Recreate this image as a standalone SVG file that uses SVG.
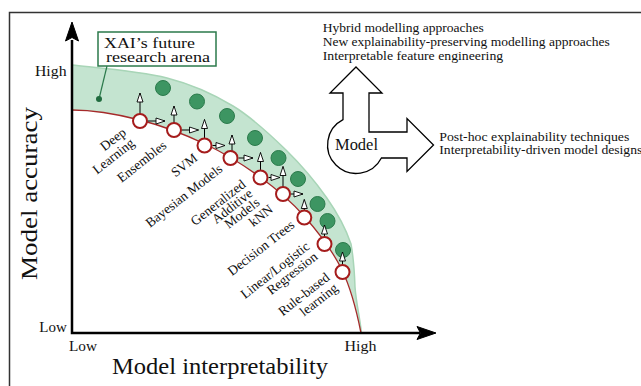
<svg xmlns="http://www.w3.org/2000/svg" width="641" height="386" viewBox="0 0 641 386">
<style>
text{font-family:"Liberation Serif","DejaVu Serif",serif;fill:#111}
.lbl{font-size:13.5px;text-anchor:end}
.rt{font-size:12px}
.ax{font-size:14px}
.big{font-size:24px}
.g{fill:#3d9562;stroke:#2b7a4b;stroke-width:1}
.r{fill:#fff;stroke:#a51c1c;stroke-width:2}
.arr{fill:none;stroke:#000;stroke-width:1;marker-end:url(#ah)}
</style>
<defs>
<marker id="ah" viewBox="0 0 10 7" refX="9.5" refY="3.5" markerWidth="10" markerHeight="7" markerUnits="userSpaceOnUse" orient="auto" overflow="visible">
<path d="M0.5,0.5 L9.5,3.5 L0.5,6.5 Z" fill="#fff" stroke="#000" stroke-width="0.9"/>
</marker>
</defs>
<rect x="9.5" y="12.5" width="700" height="400" fill="none" stroke="#333" stroke-width="1.5"/>
<g id="arena-band">
<path d="M72,65 C99.2,68 140.2,71.2 167,78 C193.8,84.8 213.2,94 233,106 C252.8,118 270.4,134.75 286,150 C301.6,165.25 315.4,181.7 326.5,197.5 C337.6,213.3 346,229 351,244 C353.5,258 354.5,272 355,287 C356,302 360,318 361.5,333 L361,333 C356.7,311.3 351.5,289.5 342,270 C332.5,250.5 317.7,231.5 304,216 C290.3,200.5 276.5,189 260,177 C243.5,165 225,153.5 205,144 C185,134.5 162.2,125.7 140,120 C117.8,114.3 94.7,110 72,110 Z" fill="#c4e4d0"/>
<path d="M72,65 C99.2,68 140.2,71.2 167,78 C193.8,84.8 213.2,94 233,106 C252.8,118 270.4,134.75 286,150 C301.6,165.25 315.4,181.7 326.5,197.5 C337.6,213.3 346,229 351,244 C353.5,258 354.5,272 355,287 C356,302 360,318 361.5,333" fill="none" stroke="#a8d5b7" stroke-width="1.5"/>
<path d="M72,110 C94.7,110 117.8,114.3 140,120 C162.2,125.7 185,134.5 205,144 C225,153.5 243.5,165 260,177 C276.5,189 290.3,200.5 304,216 C317.7,231.5 332.5,250.5 342,270 C351.5,289.5 356.7,311.3 361,333" fill="none" stroke="#a52a2a" stroke-width="1.3"/>
</g>
<g id="future-models">
<circle class="g" cx="163" cy="88" r="7.5"/>
<circle class="g" cx="197" cy="101.5" r="7.5"/>
<circle class="g" cx="227" cy="116" r="7.5"/>
<circle class="g" cx="255" cy="138" r="7.5"/>
<circle class="g" cx="278.5" cy="158" r="7.5"/>
<circle class="g" cx="298" cy="179" r="7.5"/>
<circle class="g" cx="317.5" cy="204" r="7.5"/>
<circle class="g" cx="327.5" cy="221" r="7.5"/>
<circle class="g" cx="343" cy="250" r="7.5"/>
</g>
<g id="axes">
<path d="M72,40 V333 H420" fill="none" stroke="#000" stroke-width="2.5"/>
<path d="M72,22 L78.5,41 L72,37.5 L65.5,41 Z" fill="#000" stroke="#000" stroke-width="1"/>
<path d="M436,333 L417,339.5 L420.5,333 L417,326.5 Z" fill="#000" stroke="#000" stroke-width="1"/>
<text class="ax" x="35" y="76" textLength="31.5" lengthAdjust="spacingAndGlyphs">High</text>
<text class="ax" x="39.3" y="331.5" textLength="27.5" lengthAdjust="spacingAndGlyphs">Low</text>
<text class="ax" x="69" y="350.5" textLength="28" lengthAdjust="spacingAndGlyphs">Low</text>
<text class="ax" x="344.5" y="350.5" textLength="32" lengthAdjust="spacingAndGlyphs">High</text>
<text class="big" x="112" y="374" textLength="216" lengthAdjust="spacingAndGlyphs">Model interpretability</text>
<text class="big" transform="translate(37,280) rotate(-90)" textLength="173" lengthAdjust="spacingAndGlyphs">Model accuracy</text>
</g>
<g id="connectors">
<path class="arr" d="M140,114 V93"/>
<path class="arr" d="M174,123 V106"/>
<path class="arr" d="M204.5,138.5 V119.5"/>
<path class="arr" d="M232,151.2 V135"/>
<path class="arr" d="M260.5,170.5 V152.5"/>
<path class="arr" d="M283,187 V166.5"/>
<path class="arr" d="M304.3,210.5 V199.5"/>
<path class="arr" d="M324.5,237 V225"/>
<path class="arr" d="M342.5,265 V252"/>
<path class="arr" d="M148,121 H165"/>
<path class="arr" d="M182,130 H198.5"/>
<path class="arr" d="M212.5,145.5 H225"/>
<path class="arr" d="M238.5,158 H253"/>
<path class="arr" d="M268.5,177.5 H280"/>
<path class="arr" d="M291,194 H303"/>
</g>
<g id="node-deep-learning">
<circle class="r" cx="140" cy="121" r="7"/>
<text class="lbl" transform="translate(127,134) rotate(-38)"><tspan x="0">Deep</tspan><tspan x="0" dy="13.5">Learning</tspan></text>
</g>
<g id="node-ensembles">
<circle class="r" cx="174" cy="130" r="7"/>
<text class="lbl" transform="translate(167.5,147) rotate(-38)">Ensembles</text>
</g>
<g id="node-svm">
<circle class="r" cx="204.5" cy="145.5" r="7"/>
<text class="lbl" transform="translate(198.5,159.5) rotate(-38)">SVM</text>
</g>
<g id="node-bayesian">
<circle class="r" cx="230.5" cy="158" r="7"/>
<text class="lbl" transform="translate(223.5,170.5) rotate(-38)">Bayesian Models</text>
</g>
<g id="node-gam">
<circle class="r" cx="260.5" cy="177.5" r="7"/>
<text class="lbl" transform="translate(246.5,186) rotate(-38)"><tspan x="0">Generalized</tspan><tspan x="0" dy="11.5">Additive</tspan><tspan x="0" dy="11.5">Models</tspan></text>
</g>
<g id="node-knn">
<circle class="r" cx="283" cy="194" r="7"/>
<text class="lbl" transform="translate(274,211) rotate(-38)">kNN</text>
</g>
<g id="node-decision-trees">
<circle class="r" cx="304.3" cy="217.5" r="7"/>
<text class="lbl" transform="translate(295.5,226.5) rotate(-38)">Decision Trees</text>
</g>
<g id="node-linear-logistic">
<circle class="r" cx="324.5" cy="244" r="7"/>
<text class="lbl" transform="translate(310.5,248) rotate(-38)"><tspan x="0">Linear/Logistic</tspan><tspan x="0" dy="13">Regression</tspan></text>
</g>
<g id="node-rule-based">
<circle class="r" cx="342.5" cy="272" r="7"/>
<text class="lbl" transform="translate(330.5,279) rotate(-38)"><tspan x="0">Rule-based</tspan><tspan x="0" dy="13.5">learning</tspan></text>
</g>
<g id="xai-arena">
<line x1="107" y1="66" x2="99" y2="99" stroke="#2b7a4b" stroke-width="1.2"/>
<circle cx="99" cy="99" r="3" fill="#1f6b3e"/>
<rect x="98" y="32" width="118" height="34" fill="#fff" stroke="#2b7a4b" stroke-width="1.5"/>
<text x="104" y="47.5" font-size="15" textLength="91" lengthAdjust="spacingAndGlyphs">XAI’s future</text>
<text x="106" y="62" font-size="15" textLength="104" lengthAdjust="spacingAndGlyphs">research arena</text>
</g>
<g id="model">
<path d="M356,67 L382,93 L369,93 L369,132 L407,132 L407,118.5 L433.5,145 L407,171.5 L407,158 L381.4,158 A28.5,28.5 0 1 1 343,119.6 L343,93 L330,93 Z" fill="#fff" stroke="#000" stroke-width="1.3" stroke-linejoin="miter"/>
<text x="356.5" y="149.5" font-size="16" text-anchor="middle" textLength="43" lengthAdjust="spacingAndGlyphs">Model</text>
</g>
<g id="model-up-text">
<text class="rt" x="322.7" y="32" textLength="161" lengthAdjust="spacingAndGlyphs">Hybrid modelling approaches</text>
<text class="rt" x="322.7" y="45.8" textLength="287" lengthAdjust="spacingAndGlyphs">New explainability-preserving modelling approaches</text>
<text class="rt" x="322.7" y="59.6" textLength="180.5" lengthAdjust="spacingAndGlyphs">Interpretable feature engineering</text>
</g>
<g id="model-right-text">
<text class="rt" x="439.3" y="140.5" textLength="190" lengthAdjust="spacingAndGlyphs">Post-hoc explainability techniques</text>
<text class="rt" x="439.3" y="154" textLength="203" lengthAdjust="spacingAndGlyphs">Interpretability-driven model designs</text>
</g>
</svg>
